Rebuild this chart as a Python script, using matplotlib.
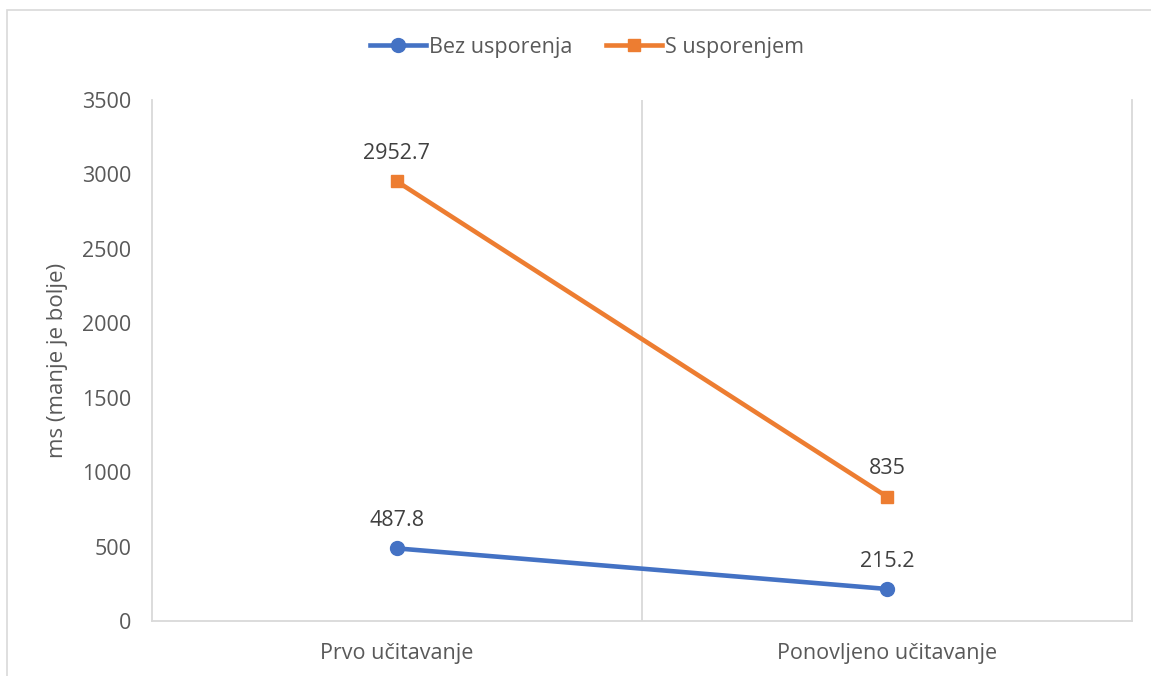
import matplotlib
matplotlib.use("Agg")
import matplotlib.pyplot as plt
from matplotlib.patches import Rectangle

# data
categories = ["Prvo učitavanje", "Ponovljeno učitavanje"]
bez_usporenja = [487.8, 215.2]
s_usporenjem = [2952.7, 835]
series_names = ["Bez usporenja", "S usporenjem"]
y_ticks = [0, 500, 1000, 1500, 2000, 2500, 3000, 3500]

plt.rcParams['font.family'] = ['Open Sans', 'DejaVu Sans']
txt = '#595959'
grid = '#d9d9d9'
fs = 15.5

fig = plt.figure(figsize=(11.51, 6.76), dpi=100)
W, H = 1151, 676
ax = fig.add_axes([152 / W, (H - 621) / H, (1132 - 152) / W, (621 - 100) / H])

# outer chart border
fig.patches.append(Rectangle((7 / W, -0.1), 1.2, (H - 10) / H + 0.1, transform=fig.transFigure,
                             fill=False, edgecolor=grid, linewidth=1.2))

x = list(range(len(categories)))
ax.plot(x, bez_usporenja, color='#4472C4', lw=3.3, marker='o', markersize=10,
        label=series_names[0], zorder=3)
ax.plot(x, s_usporenjem, color='#ED7D31', lw=3.3, marker='s', markersize=9,
        label=series_names[1], zorder=3)

for xs, ys in [(x, bez_usporenja), (x, s_usporenjem)]:
    for xi, yi in zip(xs, ys):
        ax.annotate(f"{yi:g}", (xi, yi), xytext=(0, 20), textcoords='offset points',
                    ha='center', va='center', fontsize=fs, color='#404040')

ax.set_xlim(-0.5, 1.5)
ax.set_ylim(0, 3500)
ax.set_yticks(y_ticks)
ax.set_xticks(x)
ax.set_xticklabels(categories)
ax.axvline(0.5, color=grid, lw=1.3, zorder=1)
ax.tick_params(length=0, labelsize=fs, colors=txt)
ax.tick_params(axis='y', pad=15)
ax.tick_params(axis='x', pad=16)
for s in ['left', 'right', 'bottom']:
    ax.spines[s].set_color(grid)
    ax.spines[s].set_linewidth(1.3)
ax.spines['top'].set_visible(False)
ax.set_ylabel("ms (manje je bolje)", fontsize=16, color=txt, labelpad=10)

fig.legend(loc='center', bbox_to_anchor=(587 / W, (H - 47) / H), ncol=2, frameon=False,
           fontsize=fs, labelcolor=txt, handlelength=2.6, handletextpad=0.1, columnspacing=1.6)

fig.savefig("out.png", dpi=100)
